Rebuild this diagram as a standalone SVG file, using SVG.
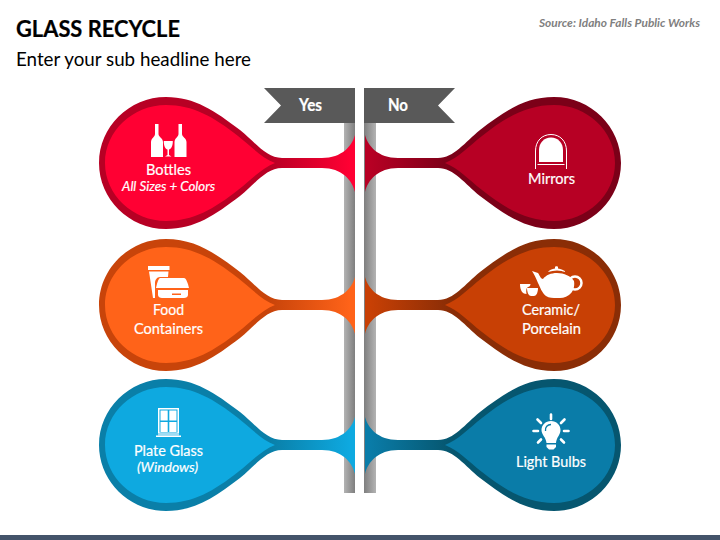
<svg xmlns="http://www.w3.org/2000/svg" width="720" height="540" viewBox="0 0 720 540">
<style>
text{font-family:Lato,"Open Sans","Liberation Sans",sans-serif;fill:#fff;text-anchor:middle;font-size:15.5px;stroke:#fff;stroke-width:.2px}
.i{font-style:italic;font-size:13.5px}
.h{fill:#000;stroke:#000;text-anchor:start}
.w{fill:#fff}
.l{fill:none;stroke:#fff}
</style>
<defs>
<path id="outer" d="M355,135C352,146 342,158 322,158L282,158C266,158 255,142 240,130C215,111 195,97 166,97C129,97 99,127 99,163C99,199 129,229 166,229C195,229 215,215 240,196C255,184 266,168 282,168L322,168C342,168 352,180 355,192Z"/>
<path id="inner" d="M275,163C262,158 252,147 238,136C214,117 193,105 166,105C133,105 105,131 105,163C105,195 133,221 166,221C193,221 214,209 238,190C252,179 262,168 275,163Z"/>
<linearGradient id="gl" x1="0" x2="1"><stop offset="0" stop-color="#b3b3b3"/><stop offset="1" stop-color="#7f7f7f"/></linearGradient>
<linearGradient id="gr" x1="0" x2="1"><stop offset="0" stop-color="#7f7f7f"/><stop offset="1" stop-color="#b3b3b3"/></linearGradient>
<linearGradient id="r1" gradientUnits="userSpaceOnUse" x1="270" x2="350" y1="0" y2="0"><stop offset="0" stop-color="#b70024"/><stop offset="1" stop-color="#ff0033"/></linearGradient>
<linearGradient id="r2" gradientUnits="userSpaceOnUse" x1="270" x2="350" y1="0" y2="0"><stop offset="0" stop-color="#c8440a"/><stop offset="1" stop-color="#ff6319"/></linearGradient>
<linearGradient id="r3" gradientUnits="userSpaceOnUse" x1="270" x2="350" y1="0" y2="0"><stop offset="0" stop-color="#0a7fa8"/><stop offset="1" stop-color="#0ea9e0"/></linearGradient>
<linearGradient id="d1" gradientUnits="userSpaceOnUse" x1="270" x2="350" y1="0" y2="0"><stop offset="0" stop-color="#7b0018"/><stop offset="1" stop-color="#b70024"/></linearGradient>
<linearGradient id="d2" gradientUnits="userSpaceOnUse" x1="270" x2="350" y1="0" y2="0"><stop offset="0" stop-color="#8a2d06"/><stop offset="1" stop-color="#c84005"/></linearGradient>
<linearGradient id="d3" gradientUnits="userSpaceOnUse" x1="270" x2="350" y1="0" y2="0"><stop offset="0" stop-color="#06566f"/><stop offset="1" stop-color="#0a7ca8"/></linearGradient>
</defs>

<g id="header">
<text class="h" x="16" y="37" font-weight="700" style="font-size:23.5px" textLength="164" lengthAdjust="spacingAndGlyphs">GLASS RECYCLE</text>
<text class="h" x="16" y="65.500" style="font-size:19px;stroke-width:0" textLength="235" lengthAdjust="spacingAndGlyphs">Enter your sub headline here</text>
<text x="539" y="26.500" font-weight="700" font-style="italic" style="font-size:11px;fill:#7f7f7f;stroke:none;text-anchor:start" textLength="161" lengthAdjust="spacingAndGlyphs">Source: Idaho Falls Public Works</text>
<rect y="535" width="720" height="5" fill="#44546a"/>
</g>

<g id="posts">
<rect x="344" y="120" width="11" height="373" fill="url(#gl)"/>
<rect x="364" y="120" width="12" height="373" fill="url(#gr)"/>
</g>

<g id="flag-yes">
<polygon points="264,88 355,88 355,123 264,123 281,105.500" fill="#595959"/>
<text x="310.500" y="110.500" font-weight="700" style="font-size:16.500px" textLength="23" lengthAdjust="spacingAndGlyphs">Yes</text>
</g>
<g id="flag-no">
<polygon points="364,88 455,88 438,105.500 455,123 364,123" fill="#595959"/>
<text x="398" y="110.500" font-weight="700" style="font-size:16.500px" textLength="20" lengthAdjust="spacingAndGlyphs">No</text>
</g>

<g id="connectors">
<use href="#outer" fill="url(#r1)"/>
<use href="#outer" fill="url(#r2)" y="142"/>
<use href="#outer" fill="url(#r3)" y="282"/>
<use href="#outer" fill="url(#d1)" transform="translate(720 0) scale(-1 1)"/>
<use href="#outer" fill="url(#d2)" transform="translate(720 142) scale(-1 1)"/>
<use href="#outer" fill="url(#d3)" transform="translate(720 282) scale(-1 1)"/>
</g>

<g id="node-bottles">
<use href="#inner" fill="#ff0033"/>
<path class="w" d="M155,124H158.500V134C158.500,137 163,138 163,142V157H151V142C151,138 155,137 155,134Z"/>
<path class="w" d="M178.500,124H182V134C182,137 186.500,138 186.500,142V157H174.500V142C174.500,138 178.500,137 178.500,134Z"/>
<path class="w" d="M163.800,141H172.800C173,146 171,149 169,149.500V155L171.500,156.500H165L167.500,155V149.500C165.500,149 163.600,146 163.800,141Z"/>
<text x="168.500" y="174.500" textLength="45" lengthAdjust="spacingAndGlyphs">Bottles</text>
<text class="i" x="168.500" y="191" textLength="93" lengthAdjust="spacingAndGlyphs">All Sizes + Colors</text>
</g>

<g id="node-mirrors">
<use href="#inner" fill="#b70024" transform="translate(720 0) scale(-1 1)"/>
<path class="l" stroke-width="1" d="M535.500,169V151C535.500,141 542,134.500 551,134.500C560,134.500 566.500,141 566.500,151V169"/>
<path class="w" d="M539,162V150C539,143 544,137.500 551,137.500C558,137.500 563,143 563,150V162Z"/>
<path class="l" stroke-width="1" d="M537.500,164.500H564.500"/>
<text x="551.500" y="184" textLength="47" lengthAdjust="spacingAndGlyphs">Mirrors</text>
</g>

<g id="node-food">
<use href="#inner" fill="#ff6319" y="142"/>
<path class="w" d="M148,266H169.500V270H148ZM149,271.500H168.500L168,277H160C157,277 155,280 155,283V298H153Z"/>
<path class="w" d="M160,278H184C186,278 188,283 189,288H156C157,284 158,279 160,278Z"/>
<path class="w" d="M158,290H188V295C188,297 186,298 184,298H162C160,298 158,297 158,295ZM172,293.500V295H181V293.500Z" fill-rule="evenodd"/>
<text x="168.500" y="314.500" textLength="31" lengthAdjust="spacingAndGlyphs">Food</text>
<text x="168.500" y="333.500" textLength="69" lengthAdjust="spacingAndGlyphs">Containers</text>
</g>

<g id="node-ceramic">
<use href="#inner" fill="#c84005" transform="translate(720 142) scale(-1 1)"/>
<circle class="l" cx="575" cy="283" r="6.500" stroke-width="2.500"/>
<path class="w" d="M532,271L538,273C540,276 541,279 543,279C546,275 551,273 557,273C564,273 571,276 574,281C575,287 573,292 569,295C565,298 561,298 557,298C553,298 549,298 546,296C542,293 540,287 538,283C536,278 534,274 532,271Z"/>
<path class="w" d="M548,272C549,270 552,269 555,268.500V267C555,266 558,266 558,267V268.500C561,269 564,270 566,272C560,270 554,270 548,272Z"/>
<path class="w" d="M520,284H530.500C530.500,286 529,287 528,287C526,288 526,291 526.500,294C523,294 520,291 520,284Z"/>
<path class="w" d="M527,288H538C538,293 536,296 534,296H531C529,296 527,293 527,288Z"/>
<text x="551" y="314.500" textLength="58" lengthAdjust="spacingAndGlyphs">Ceramic/</text>
<text x="551.500" y="333.500" textLength="59" lengthAdjust="spacingAndGlyphs">Porcelain</text>
</g>

<g id="node-plate">
<use href="#inner" fill="#0ea9e0" y="282"/>
<rect class="w" x="158" y="408" width="21" height="26"/>
<rect x="159.500" y="409.500" width="18" height="23" fill="#0ea9e0"/>
<path class="w" d="M160.500,410.500H167.700V420.500H160.500ZM169.300,410.500H176.500V420.500H169.300ZM160.500,422H167.700V432H160.500ZM169.300,422H176.500V432H169.300Z"/>
<rect x="158" y="433" width="21" height="2.500" fill="#9fdcf3"/>
<rect class="w" x="156" y="435.500" width="25" height="1.500"/>
<text x="168.500" y="455.500" textLength="69" lengthAdjust="spacingAndGlyphs">Plate Glass</text>
<text class="i" x="167.500" y="471.500" textLength="61" lengthAdjust="spacingAndGlyphs">(Windows)</text>
</g>

<g id="node-bulbs">
<use href="#inner" fill="#0a7ca8" transform="translate(720 282) scale(-1 1)"/>
<path class="w" d="M551,421C556.500,421 560.500,425 560.500,430C560.500,435 556.500,437 556,443H546.500C546,437 541.500,435 541.500,430C541.500,425 545.500,421 551,421Z"/>
<path fill="none" stroke="#0a7ca8" stroke-width="1.300" d="M545.500,431C545,427 547.500,424.500 551,424.500"/>
<path class="w" d="M546.500,444.500H556V447L553.500,449.500H549L546.500,447Z"/>
<path class="l" stroke-width="2.600" stroke-linecap="round" d="M551,414.500V419M537.500,419.500L541,423M564.500,419.500L561,423M533.500,431H538M564,431H568.500M538,442.500L541,439.500M564,442.500L561,439.500"/>
<text x="551" y="467" textLength="70" lengthAdjust="spacingAndGlyphs">Light Bulbs</text>
</g>
</svg>
